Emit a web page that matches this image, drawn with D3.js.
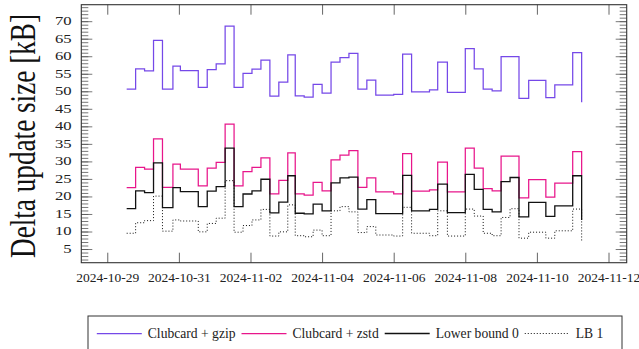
<!DOCTYPE html>
<html>
<head>
<meta charset="utf-8">
<script src="https://cdn.jsdelivr.net/npm/d3@7"></script>
<style>
  body { margin: 0; background: #fff; }
  text { font-family: "Liberation Serif", "Times New Roman", serif; fill: #222; }
</style>
</head>
<body>
<div id="chart"></div>
<script>
// sample times (UTC)
var times = ["2024-10-29T13:00","2024-10-29T19:00","2024-10-30T01:00","2024-10-30T07:00","2024-10-30T13:00",
  "2024-10-30T20:00","2024-10-31T01:00","2024-10-31T13:00","2024-10-31T19:00","2024-11-01T01:00",
  "2024-11-01T07:00","2024-11-01T13:00","2024-11-01T19:00","2024-11-02T01:00","2024-11-02T07:00",
  "2024-11-02T13:00","2024-11-02T19:00","2024-11-03T01:00","2024-11-03T06:00","2024-11-03T12:00",
  "2024-11-03T18:00","2024-11-04T00:00","2024-11-04T06:00","2024-11-04T12:00","2024-11-04T18:00",
  "2024-11-05T00:00","2024-11-05T06:00","2024-11-05T12:00","2024-11-06T00:00","2024-11-06T06:00",
  "2024-11-06T12:00","2024-11-07T00:00","2024-11-07T05:30","2024-11-07T12:00","2024-11-08T00:00",
  "2024-11-08T06:00","2024-11-08T12:00","2024-11-08T18:00","2024-11-09T00:00","2024-11-09T06:00",
  "2024-11-09T12:00","2024-11-09T18:30","2024-11-10T06:00","2024-11-10T12:00","2024-11-11T00:00",
  "2024-11-11T06:00"];

var gzipKB = [50.6,56.4,55.8,64.5,50.6,57.2,55.9,51.1,56.2,57.8,
  68.6,51.1,55.1,56.3,58.9,48.6,52.6,60.4,48.7,48.3,
  52.0,49.5,58.3,59.6,60.8,50.6,53.2,48.9,49.1,60.6,
  49.8,50.4,58.3,49.7,62.2,56.4,50.6,50.1,59.9,59.9,
  48.0,53.1,48.2,51.8,61.0,46.9];
var zstdKB = [22.5,28.3,27.8,36.4,22.6,29.2,27.8,23.0,28.1,29.7,
  40.6,23.0,27.1,28.3,31.0,20.7,24.6,32.4,20.7,20.4,
  24.0,21.6,30.4,31.8,33.1,22.6,25.3,21.3,20.7,32.2,
  21.5,21.9,29.8,21.3,33.8,28.1,22.2,21.6,31.5,31.5,
  19.6,24.8,19.8,23.8,32.8,26.1];
var lowerBound0KB = [16.5,21.6,21.1,29.6,16.8,22.5,21.4,17.1,21.5,22.8,
  33.8,17.1,20.7,21.6,24.9,15.3,18.4,25.9,15.2,15.0,
  17.8,15.9,23.9,25.3,25.5,16.4,19.1,15.1,15.1,26.0,
  15.9,16.3,23.5,15.4,26.3,22.0,16.3,15.6,24.2,25.4,
  14.2,18.3,14.3,17.3,25.9,13.3];
var lb1KB = [9.5,12.5,13.1,20.1,10.1,13.3,13.0,9.9,12.3,13.8,
  24.5,9.8,11.7,13.3,16.3,8.7,9.9,17.6,8.8,8.5,
  10.4,8.8,15.9,17.1,15.6,9.7,11.4,9.0,8.7,16.9,
  9.5,8.8,15.9,8.7,16.4,14.4,9.5,8.8,14.0,16.5,
  8.1,9.8,8.1,10.2,16.4,7.1];

var seriesNames = ["Clubcard + gzip", "Clubcard + zstd", "Lower bound 0", "LB 1"];
var xTickDates = ["2024-10-29","2024-10-31","2024-11-02","2024-11-04","2024-11-06","2024-11-08","2024-11-10","2024-11-12"];
var xDomain = ["2024-10-28T06:35", "2024-11-12T12:12"];
var yDomain = [1.1, 74.7];
var yMajor = d3.range(5, 71, 5);
var yMinor = d3.range(2, 75, 1);

var W = 639, H = 349;
var plotL = 81.3, plotR = 626.7, plotT = 4.7, plotB = 262.7;

var parseT = d3.utcParse("%Y-%m-%dT%H:%M");
var parseD = d3.utcParse("%Y-%m-%d");

var svg = d3.select("#chart").append("svg")
  .attr("width", W).attr("height", H);

var x = d3.scaleUtc().domain(xDomain.map(parseT)).range([plotL, plotR]);
var y = d3.scaleLinear().domain(yDomain).range([plotB, plotT]);

var styles = [
  {color: "#7548e8", width: 1.25, dash: null},
  {color: "#e8168b", width: 1.25, dash: null},
  {color: "#111", width: 1.3, dash: null},
  {color: "#111", width: 1, dash: "1,2"}
];
var allSeries = [gzipKB, zstdKB, lowerBound0KB, lb1KB];

var line = d3.line()
  .x(function(d) { return x(d[0]); })
  .y(function(d) { return y(d[1]); })
  .curve(d3.curveStepAfter);

var tDates = times.map(parseT);
allSeries.forEach(function(vals, i) {
  var pts = vals.map(function(v, j) { return [tDates[j], v]; });
  svg.append("path")
    .attr("d", line(pts))
    .style("fill", "none")
    .style("stroke", styles[i].color)
    .style("stroke-width", styles[i].width)
    .style("stroke-dasharray", styles[i].dash);
});

// x axis ticks (bottom + top, inward)
var xTicks = xTickDates.map(parseD);
var xb = svg.append("g").attr("transform", "translate(0," + plotB + ")")
  .call(d3.axisBottom(x).tickValues(xTicks).tickSize(-10).tickPadding(8)
    .tickFormat(d3.utcFormat("%Y-%m-%d")));
xb.select(".domain").remove();
xb.selectAll("line").style("stroke", "#555").style("stroke-width", 0.9);
xb.selectAll("text").style("font-family", "Liberation Serif").style("font-size", "13.5px").style("fill", "#222")
  .attr("y", 10).attr("dy", "0.71em");

var xt = svg.append("g").attr("transform", "translate(0," + plotT + ")")
  .call(d3.axisTop(x).tickValues(xTicks).tickSize(-10).tickFormat(""));
xt.select(".domain").remove();
xt.selectAll("line").style("stroke", "#555").style("stroke-width", 0.9);

// y axis minor + major, both sides
function yTicks(axisFn, xpos, vals, size) {
  var g = svg.append("g").attr("transform", "translate(" + xpos + ",0)")
    .call(axisFn(y).tickValues(vals).tickSize(-size).tickFormat(""));
  g.select(".domain").remove();
  g.selectAll("line").style("stroke", "#555").style("stroke-width", 0.8);
  return g;
}
yTicks(d3.axisLeft, plotL, yMinor, 7);
yTicks(d3.axisLeft, plotL, yMajor, 11);
yTicks(d3.axisRight, plotR, yMinor, 7);
yTicks(d3.axisRight, plotR, yMajor, 11);

// y tick labels (wide serif)
svg.append("g").selectAll("text")
  .data(yMajor).enter()
  .append("text")
  .attr("transform", function(d) { return "translate(71.7," + y(d) + ") scale(1.39,1)"; })
  .attr("text-anchor", "end")
  .attr("dy", "0.33em")
  .style("font-size", "12px")
  .text(function(d) { return d; });

// frame
svg.append("rect")
  .attr("x", plotL).attr("y", plotT)
  .attr("width", plotR - plotL).attr("height", plotB - plotT)
  .style("fill", "none").style("stroke", "#333").style("stroke-width", 1.1);

// y title
svg.append("text")
  .attr("transform", "translate(35," + 136 + ") rotate(-90)")
  .attr("text-anchor", "middle")
  .attr("textLength", 244)
  .attr("lengthAdjust", "spacingAndGlyphs")
  .style("font-size", "35px")
  .style("fill", "#111")
  .text("Delta update size [kB]");

// legend
var legend = svg.append("g");
legend.append("rect")
  .attr("x", 88).attr("y", 316).attr("width", 534).attr("height", 50)
  .style("fill", "#fff").style("stroke", "#333").style("stroke-width", 1);
var lx = 96.8, ly = 333.5;
seriesNames.forEach(function(name, i) {
  legend.append("line")
    .attr("x1", lx).attr("x2", lx + 45).attr("y1", ly).attr("y2", ly)
    .style("stroke", styles[i].color)
    .style("stroke-width", styles[i].width)
    .style("stroke-dasharray", styles[i].dash);
  var t = legend.append("text")
    .attr("x", lx + 51).attr("y", ly + 4.5)
    .style("font-size", "13.6px")
    .text(name);
  lx = lx + 51 + t.node().getComputedTextLength() + 6;
});
</script>
</body>
</html>
